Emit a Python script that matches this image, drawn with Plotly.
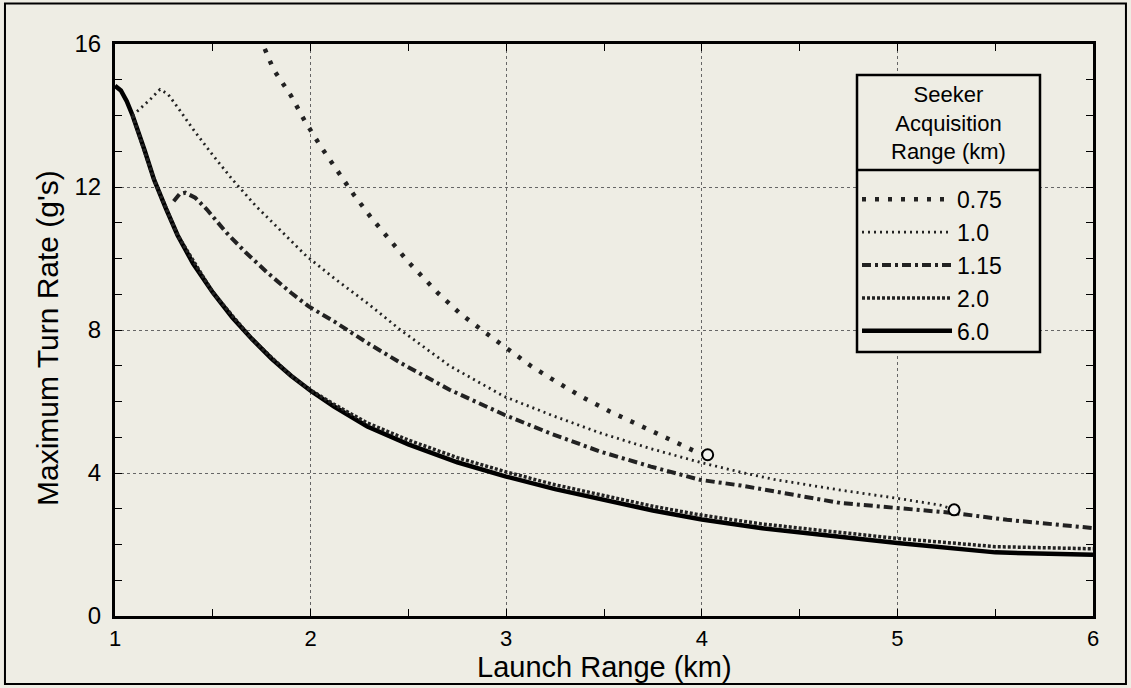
import plotly.graph_objects as go

# ---- data ----
x_075 = [1.74, 1.78, 1.81, 1.90, 1.97, 2.05, 2.13, 2.22, 2.31, 2.41, 2.50, 2.65, 2.76, 2.88, 3.01, 3.13, 3.26, 3.39, 3.53, 3.68, 3.82, 3.96, 4.03]
y_075 = [16.2, 15.71, 15.29, 14.55, 13.85, 13.15, 12.49, 11.79, 11.14, 10.48, 9.90, 9.04, 8.48, 7.98, 7.47, 6.98, 6.54, 6.12, 5.72, 5.35, 4.98, 4.62, 4.51]

x_10 = [1.09, 1.18, 1.23, 1.27, 1.315, 1.40, 1.49, 1.60, 1.72, 1.84, 1.98, 2.12, 2.29, 2.46, 2.71, 2.99, 3.24, 3.48, 3.74, 3.99, 4.20, 4.37, 4.71, 4.99, 5.22, 5.29]
y_10 = [14.0, 14.45, 14.73, 14.6, 14.27, 13.61, 12.96, 12.21, 11.47, 10.81, 10.06, 9.45, 8.75, 8.0, 7.0, 6.14, 5.6, 5.12, 4.68, 4.3, 4.02, 3.82, 3.52, 3.3, 3.1, 2.98]

x_115 = [1.30, 1.33, 1.36, 1.41, 1.47, 1.52, 1.57, 1.67, 1.78, 1.90, 1.99, 2.12, 2.29, 2.46, 2.71, 2.99, 3.22, 3.48, 3.74, 3.99, 4.20, 4.71, 4.99, 5.29, 5.56, 6.0]
y_115 = [11.6, 11.8, 11.84, 11.7, 11.37, 11.05, 10.72, 10.16, 9.6, 9.04, 8.66, 8.24, 7.64, 7.08, 6.33, 5.63, 5.12, 4.6, 4.18, 3.81, 3.65, 3.16, 3.02, 2.88, 2.69, 2.46]

x_20 = [1.09, 1.2, 1.32, 1.5, 1.7, 1.9, 2.0, 2.12, 2.29, 2.5, 2.75, 3.0, 3.25, 3.5, 3.75, 4.0, 4.3, 4.6, 5.0, 5.5, 6.0]
y_20 = [14.0, 12.2, 10.65, 9.05, 7.75, 6.72, 6.32, 5.92, 5.4, 4.92, 4.43, 4.03, 3.67, 3.37, 3.07, 2.82, 2.58, 2.4, 2.17, 1.94, 1.88]

x_60 = [1.0, 1.03, 1.06, 1.09, 1.15, 1.2, 1.26, 1.32, 1.4, 1.5, 1.6, 1.7, 1.8, 1.9, 2.0, 2.12, 2.29, 2.5, 2.75, 3.0, 3.25, 3.5, 3.75, 4.0, 4.3, 4.6, 5.0, 5.5, 6.0]
y_60 = [14.83, 14.7, 14.4, 14.0, 13.05, 12.2, 11.4, 10.65, 9.85, 9.05, 8.35, 7.75, 7.2, 6.72, 6.3, 5.86, 5.3, 4.8, 4.3, 3.9, 3.55, 3.25, 2.95, 2.7, 2.46, 2.28, 2.04, 1.78, 1.71]

end_x = [4.03, 5.29]
end_y = [4.51, 2.97]

x_ticks = [1, 2, 3, 4, 5, 6]
y_ticks = [0, 4, 8, 12, 16]

series_names = ["0.75", "1.0", "1.15", "2.0", "6.0"]
legend_title = "Seeker<br>Acquisition<br>Range (km)"
x_title = "Launch Range (km)"
y_title = "Maximum Turn Rate (g's)"

BG = "#eeede4"
FONT = "Liberation Sans, Arial, Helvetica, sans-serif"

fig = go.Figure()

fig.add_trace(go.Scatter(x=x_60, y=y_60, mode="lines", name=series_names[4],
                         line=dict(color="black", width=4.5)))
fig.add_trace(go.Scatter(x=x_20, y=y_20, mode="lines", name=series_names[3],
                         line=dict(color="#222", width=3.5, dash="3px,2px")))
fig.add_trace(go.Scatter(x=x_115, y=y_115, mode="lines", name=series_names[2],
                         line=dict(color="#222", width=4, dash="9px,4px,3px,4px")))
fig.add_trace(go.Scatter(x=x_10, y=y_10, mode="lines", name=series_names[1],
                         line=dict(color="#222", width=2.8, dash="2px,4px")))
fig.add_trace(go.Scatter(x=x_075, y=y_075, mode="lines", name=series_names[0],
                         line=dict(color="#222", width=4.5, dash="4px,9px")))
fig.add_trace(go.Scatter(x=end_x, y=end_y, mode="markers", showlegend=False,
                         marker=dict(symbol="circle", size=11, color="#f4f4f0",
                                     line=dict(color="black", width=2))))

axis_common = dict(
    showline=True, linecolor="black", linewidth=3, mirror="allticks",
    ticks="inside", ticklen=7, tickwidth=1, tickcolor="black",
    showgrid=True, gridcolor="#666", griddash="dot", gridwidth=1,
    zeroline=False, color="black",
)

fig.update_xaxes(range=[1, 6], tickvals=x_ticks, ticktext=[str(v) for v in x_ticks],
                 tickfont=dict(size=22, family=FONT, color="black"),
                 minor=dict(dtick=0.5, ticks="inside", ticklen=7, tickcolor="black", showgrid=False),
                 ticklabelstandoff=1,
                 **axis_common)
fig.update_yaxes(range=[0, 16], tickvals=y_ticks, ticktext=[str(v) for v in y_ticks],
                 tickfont=dict(size=24, family=FONT, color="black"),
                 minor=dict(dtick=1, ticks="inside", ticklen=7, tickcolor="black", showgrid=False),
                 ticklabelstandoff=6,
                 **axis_common)

# legend box geometry (paper coordinates)
LX0, LX1 = 0.7587, 0.9458
LY0, LY1 = 0.4615, 0.9458
LSEP = 0.7797

fig.update_layout(
    width=1131, height=688,
    margin=dict(l=115, r=38, t=44, b=72, autoexpand=False),
    paper_bgcolor=BG, plot_bgcolor=BG,
    font=dict(family=FONT, color="black"),
    legend=dict(
        x=LX0, y=0.7662, xanchor="left", yanchor="top",
        bgcolor="rgba(0,0,0,0)", borderwidth=0,
        traceorder="reversed",
        font=dict(size=23, family=FONT, color="black"),
        itemwidth=90, tracegroupgap=0,
    ),
    shapes=[
        dict(type="rect", xref="paper", yref="paper", x0=-0.1125, x1=1.0337, y0=-0.119, y1=1.0709,
             line=dict(color="black", width=2), fillcolor="rgba(0,0,0,0)", layer="above"),
        dict(type="rect", xref="paper", yref="paper", x0=LX0, x1=LX1, y0=LY0, y1=LY1,
             line=dict(color="black", width=2.5), fillcolor=BG, layer="above"),
        dict(type="line", xref="paper", yref="paper", x0=LX0, x1=LX1, y0=LSEP, y1=LSEP,
             line=dict(color="black", width=2.5), layer="above"),
    ],
    annotations=[
        dict(text=legend_title, xref="paper", yref="paper", x=(LX0 + LX1) / 2, y=(LY1 + LSEP) / 2,
             xanchor="center", yanchor="middle", showarrow=False, align="center",
             font=dict(size=22, family=FONT, color="black")),
        dict(text=x_title, xref="paper", yref="paper", x=0.5, y=-0.0892,
             xanchor="center", yanchor="middle", showarrow=False,
             font=dict(size=29, family=FONT, color="black")),
        dict(text=y_title, xref="paper", yref="paper", x=-0.0695, y=0.486, textangle=-90,
             xanchor="center", yanchor="middle", showarrow=False,
             font=dict(size=30, family=FONT, color="black")),
    ],
)

fig.write_html("out.html")
